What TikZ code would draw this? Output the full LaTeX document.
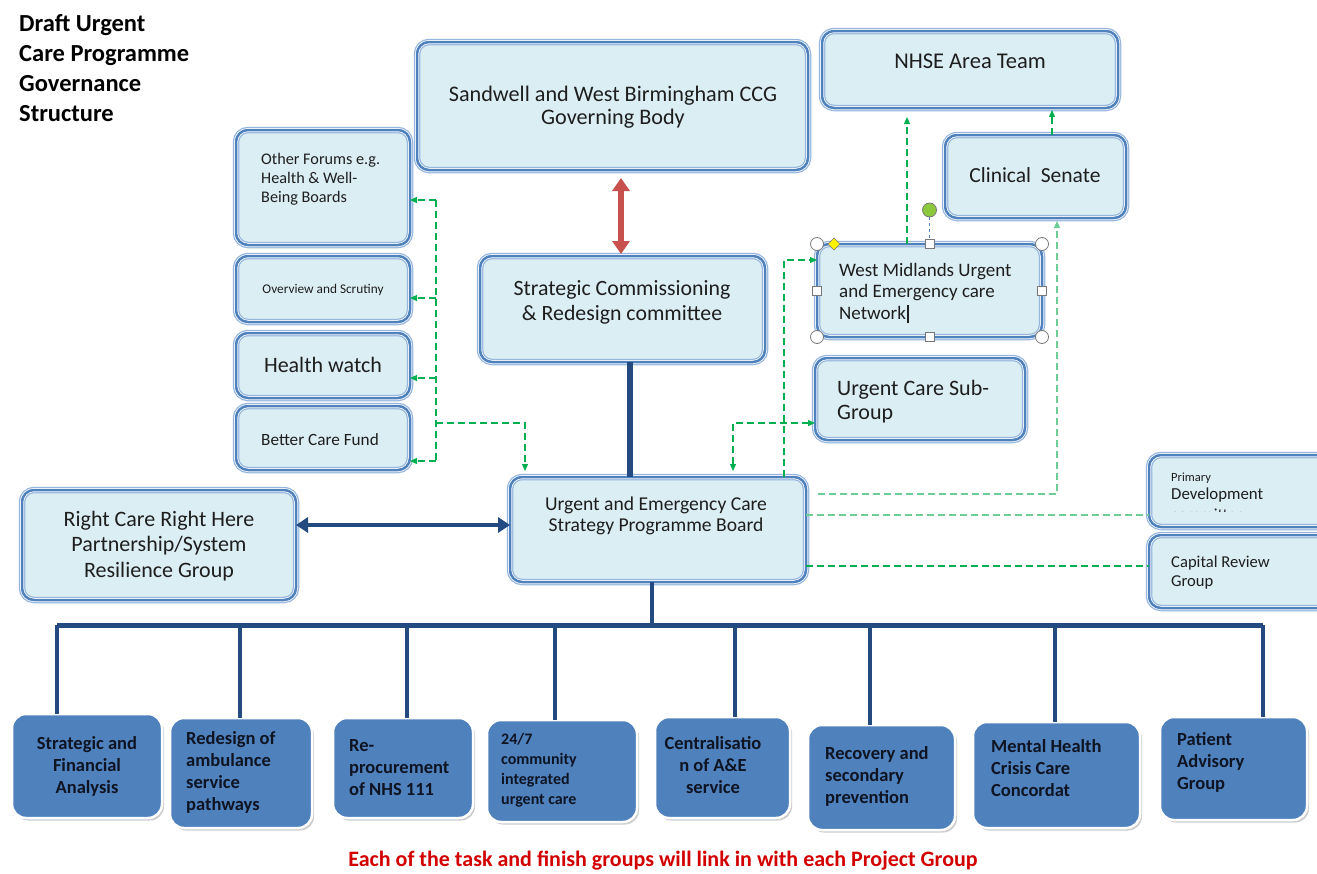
\documentclass[tikz,border=0pt]{standalone}
\usepackage{fontspec}
\setmainfont{Carlito}
\usetikzlibrary{arrows.meta,shadows}
\definecolor{boxfill}{RGB}{219,238,244}
\definecolor{boxline}{RGB}{79,129,189}
\definecolor{boxhalo}{RGB}{150,182,222}
\definecolor{treeblue}{RGB}{35,75,130}
\definecolor{arrred}{RGB}{200,80,77}
\definecolor{gline}{RGB}{0,176,80}
\definecolor{glight}{RGB}{110,205,150}
\definecolor{bbfill}{RGB}{79,129,189}
\definecolor{txtdark}{RGB}{30,30,30}
\definecolor{btxt}{RGB}{15,20,35}
\definecolor{redtxt}{RGB}{210,0,0}
\definecolor{hgrey}{RGB}{120,120,120}
\definecolor{hgreen}{RGB}{140,200,60}
\newcommand\fs[2]{\fontsize{#1}{#2}\selectfont}
\newcommand\mybox[6]{\node[#1, minimum width={#5-#3}, minimum height={#6-#4}] (#2) at ({(#3+#5)/2},{(#4+#6)/2}) {};}
\begin{document}
\begin{tikzpicture}[x=1pt,y=-1pt,
  lbox/.style={rectangle, rounded corners=12pt, inner sep=0pt, outer sep=0pt,
     preaction={fill=boxfill},
     preaction={draw=boxhalo, line width=6.5pt},
     preaction={draw=white, line width=4pt},
     preaction={draw=boxline, line width=2.5pt}},
  bbox/.style={rectangle, rounded corners=14pt, fill=bbfill, draw=white, line width=2.5pt, inner sep=0pt, outer sep=0pt, drop shadow={shadow xshift=2pt, shadow yshift=-2.5pt, opacity=0.4}},
  t/.style={inner sep=0pt, text=txtdark, align=center},
  tl/.style={inner sep=0pt, text=txtdark, align=left, anchor=west},
  bt/.style={inner sep=0pt, text=btxt, align=center, font=\bfseries\fs{18.5}{22}},
  btl/.style={inner sep=0pt, text=btxt, align=left, anchor=west, font=\bfseries\fs{18.5}{22}},
  gd/.style={draw=gline, line width=1.3pt, dash pattern=on 7pt off 4pt, >={Triangle[length=7pt,width=6pt]}},
  gdl/.style={gd, draw=glight},
  tree/.style={draw=treeblue, line width=4.5pt},
  handle/.style={draw=hgrey, fill=white, line width=0.8pt}
]
\useasboundingbox[fill=white] (0,0) rectangle (1317,873);

% title
\node[tl, font=\bfseries\fs{24.5}{30}, text=black] (title) at (19,68) {Draft Urgent\\Care Programme\\Governance\\Structure};

% light boxes
\mybox{lbox}{ccg}{417}{42}{808}{170}
\mybox{lbox}{nhse}{822}{31}{1118}{108}
\mybox{lbox}{senate}{945}{135}{1126}{218}
\mybox{lbox}{forums}{236}{130}{410}{245}
\mybox{lbox}{overview}{236}{256}{410}{322}
\mybox{lbox}{hwatch}{236}{333}{410}{398}
\mybox{lbox}{bcf}{236}{406}{410}{470}
\mybox{lbox}{strat}{480}{256}{765}{362}
\mybox{lbox}{wm}{817}{244}{1042}{337}
\mybox{lbox}{sub}{815}{358}{1025}{440}
\mybox{lbox}{primary}{1149}{455}{1330}{527}
\mybox{lbox}{capital}{1149}{535}{1330}{608}
\mybox{lbox}{rcrh}{22}{490}{296}{600}
\mybox{lbox}{board}{510}{477}{806}{582}

% texts in light boxes
\node[t, font=\fs{22.2}{23.5}] (ccgt) at (613,107) {Sandwell and West Birmingham CCG\\Governing Body};
\node[t, font=\fs{22.5}{24}] (nhset) at (970,61) {NHSE Area Team};
\node[t, font=\fs{21.5}{24}] (senatet) at (1035,175) {Clinical\ \ Senate};
\node[tl, font=\fs{16.2}{19}] (forumst) at (261,179) {Other Forums e.g.\\Health \& Well-\\Being Boards};
\node[t, font=\fs{13.3}{14}] (overviewt) at (323,290) {Overview and Scrutiny};
\node[t, font=\fs{22}{24}] (hwatcht) at (323,365) {Health watch};
\node[t, font=\fs{17.2}{19}] (bcft) at (320,440) {Better Care Fund};
\node[t, font=\fs{21.8}{25}] (stratt) at (622,302) {Strategic Commissioning\\\& Redesign committee};
\node[tl, font=\fs{19}{21.5}] (wmt) at (839,293) {West Midlands Urgent\\and Emergency care\\Network\kern1pt\rule[-4pt]{1.8pt}{18pt}};
\node[tl, font=\fs{22}{24}] (subt) at (837,402) {Urgent Care Sub-\\Group};
\node[tl, font=\fs{12.5}{14}] (primt1) at (1171,478) {Primary};
\node[tl, font=\fs{16.8}{19}] (primt2) at (1171,495) {Development};
\begin{scope}
  \clip (1150,455) rectangle (1317,511);
  \node[tl, font=\fs{16.8}{19}] (primt3) at (1171,515) {committee};
\end{scope}
\node[tl, font=\fs{16.6}{19}] (capt) at (1171,573) {Capital Review\\Group};
\node[t, font=\fs{22}{25.5}] (rcrht) at (159,546) {Right Care Right Here\\Partnership/System\\Resilience Group};
\node[t, font=\fs{19.6}{21.5}] (boardt) at (656,516) {Urgent and Emergency Care\\Strategy Programme Board};

% bottom boxes
\mybox{bbox}{b1}{12}{714}{162}{818}
\mybox{bbox}{b2}{170}{718}{312}{828}
\mybox{bbox}{b3}{333}{718}{473}{818}
\mybox{bbox}{b4}{487}{720}{637}{822}
\mybox{bbox}{b5}{655}{717}{790}{818}
\mybox{bbox}{b6}{808}{725}{955}{830}
\mybox{bbox}{b7}{973}{722}{1140}{828}
\mybox{bbox}{b8}{1160}{717}{1307}{820}

\node[bt] (b1t) at (87,766) {Strategic and\\Financial\\Analysis};
\node[btl] (b2t) at (186,772) {Redesign of\\ambulance\\service\\pathways};
\node[btl] (b3t) at (349,768) {Re-\\procurement\\of NHS 111};
\node[btl, font=\bfseries\fs{16}{20}] (b4t) at (501,770) {24/7\\community\\integrated\\urgent care};
\node[bt] (b5t) at (713,765) {Centralisatio\\n of A\&E\\service};
\node[btl] (b6t) at (825,776) {Recovery and\\secondary\\prevention};
\node[btl] (b7t) at (991,768) {Mental Health\\Crisis Care\\Concordat};
\node[btl] (b8t) at (1177,762) {Patient\\Advisory\\Group};

\node[inner sep=0pt, text=redtxt, font=\bfseries\fs{22}{24}] (note) at (663,861) {Each of the task and finish groups will link in with each Project Group};

% dark blue tree
\coordinate (barL) at (57,625);
\coordinate (barR) at (1263,625);
\draw[tree, line width=6pt] ([xshift=7]strat.south) -- ([xshift=7]strat.south |- board.north);
\draw[tree] ([xshift=-6]board.south) -- ([xshift=-6]board.south |- barL);
\draw[tree, line width=5pt] (barL) -- (barR);
\foreach \xx/\bb in {57/b1,240/b2,407/b3,555/b4,735/b5,870/b6,1055/b7,1263/b8}{
  \coordinate (tp) at (\xx,625);
  \draw[tree, line width=4pt] (tp) -- (tp |- \bb.north);
}

% red double arrow
\draw[arrred, line width=6pt, {Triangle[length=13pt,width=17pt]}-{Triangle[length=13pt,width=17pt]}, shorten <=8pt, shorten >=2pt] ([xshift=8.5]ccg.south) -- ([xshift=8.5]ccg.south |- strat.north);

% blue double arrow
\draw[treeblue, line width=4.5pt, {Triangle[length=12pt,width=15pt]}-{Triangle[length=12pt,width=15pt]}] ([yshift=20]rcrh.east) -- ([yshift=20]rcrh.east -| board.west);

% left green bus
\coordinate (bt) at (436,200);
\coordinate (bo) at (436,298);
\coordinate (bh) at (436,378);
\coordinate (bj) at (436,423);
\coordinate (bb) at (436,461);
\draw[gd] (bt) -- (bb);
\draw[gd,->] (bt) -- (bt -| forums.east);
\draw[gd,->] (bo) -- (bo -| overview.east);
\draw[gd,->] (bh) -- (bh -| hwatch.east);
\draw[gd,->] (bb) -- (bb -| bcf.east);
\draw[gd,->, shorten >=6pt] (bj) -| ([xshift=-133]board.north);

% right green connectors
\draw[gd,<->, shorten <=6pt] ([xshift=75]board.north) |- ([yshift=-24]sub.west);
\draw[gd,->] ([xshift=126]board.north) |- ([yshift=30.5]wm.west);
\draw[gd,->, shorten >=9pt] ([xshift=-22.5]wm.north) -- ([xshift=-22.5]wm.north |- nhse.south);
\draw[gd,->, shorten >=2pt] ([xshift=16.5]senate.north) -- ([xshift=16.5]senate.north |- nhse.south);
\draw[gdl,->, shorten >=3pt] ([xshift=12,yshift=35.5]board.east) -| ([xshift=21.5]senate.south);
\draw[gdl] ([yshift=14.5]board.east) -- ([yshift=14.5]board.east -| primary.west);
\draw[gd] ([yshift=-36.5]board.east) -- ([yshift=-36.5]board.east -| capital.west);

% selection handles on WM box
\draw[dashed, draw=boxline, line width=1pt] ([yshift=27]wm.north) -- (wm.north);
\draw[draw=hgrey, fill=hgreen, line width=0.8pt] ([yshift=34]wm.north) circle (7);
\foreach \a in {north west,north east,south west,south east}{
  \draw[handle] (wm.\a) circle (6.5);
}
\foreach \a in {north,south,east,west}{
  \draw[handle] ([shift={(-4.5,-4.5)}]wm.\a) rectangle +(9,9);
}
\draw[draw=hgrey, fill=yellow, line width=0.6pt] ([xshift=17,yshift=6]wm.north west) -- ([xshift=23]wm.north west) -- ([xshift=17,yshift=-6]wm.north west) -- ([xshift=11]wm.north west) -- cycle;
\end{tikzpicture}
\end{document}
